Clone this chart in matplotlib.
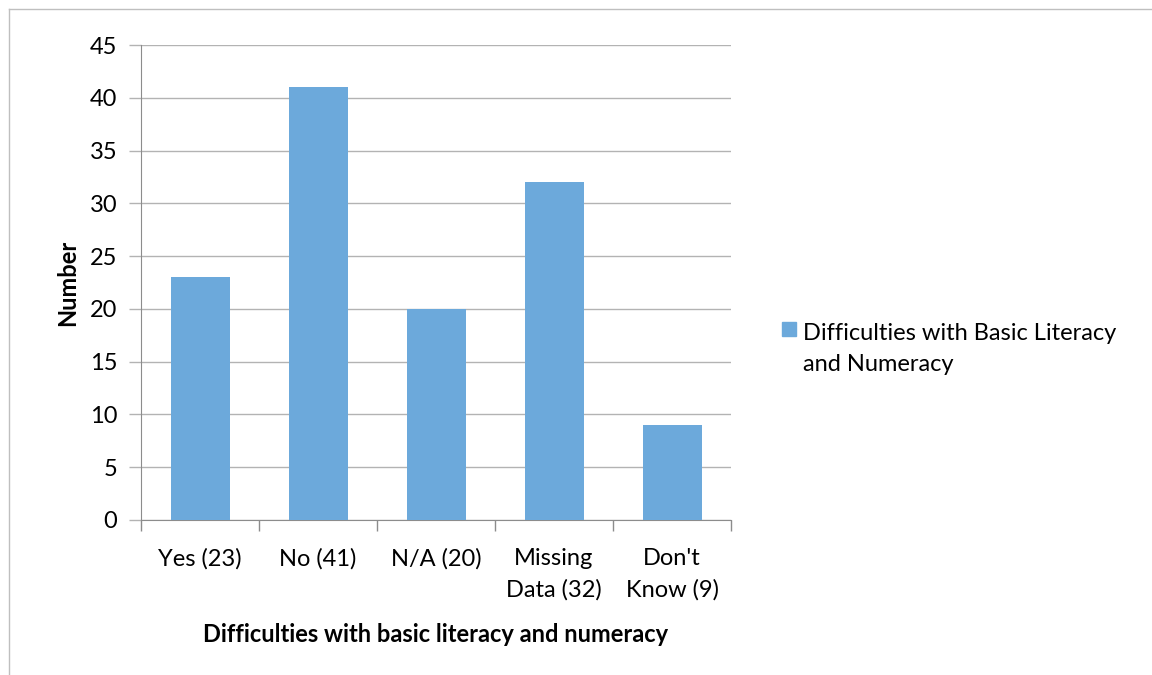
import matplotlib
matplotlib.use('Agg')
import matplotlib.pyplot as plt
from matplotlib.lines import Line2D
from matplotlib.patches import Rectangle

categories = ['Yes (23)', 'No (41)', 'N/A (20)', 'Missing\nData (32)', "Don't\nKnow (9)"]
values = [23, 41, 20, 32, 9]
y_ticks = [0, 5, 10, 15, 20, 25, 30, 35, 40, 45]
series_name = 'Difficulties with Basic Literacy\nand Numeracy'

BAR_COLOR = '#6CA9DB'
GRID_COLOR = '#B3B3B3'
AXIS_COLOR = '#8C8C8C'
FS = 17

plt.rcParams['font.family'] = ['Lato', 'DejaVu Sans']

fig = plt.figure(figsize=(11.52, 6.75), dpi=100)
ax = fig.add_axes([141 / 1152, 1 - 520 / 675, 590 / 1152, 475 / 675])

x = range(len(categories))
ax.bar(x, values, width=0.5, color=BAR_COLOR, zorder=3)

ax.set_xlim(-0.5, len(categories) - 0.5)
ax.set_ylim(0, 45)
ax.set_yticks(y_ticks)
ax.set_yticklabels([str(v) for v in y_ticks], fontsize=FS)
ax.set_xticks(list(x))
ax.set_xticklabels(categories, fontsize=FS, linespacing=1.6)
ax.set_xticks([i - 0.5 for i in range(len(categories) + 1)], minor=True)

ax.tick_params(axis='x', which='major', length=0, pad=20)
ax.tick_params(axis='x', which='minor', length=8, width=1, color=AXIS_COLOR, direction='out')
ax.tick_params(axis='y', length=9, width=1, color=GRID_COLOR, direction='out', pad=8)

ax.yaxis.grid(True, color=GRID_COLOR, linewidth=1, zorder=0)
for side in ['top', 'right']:
    ax.spines[side].set_visible(False)
ax.spines['left'].set_color(AXIS_COLOR)
ax.spines['bottom'].set_color(AXIS_COLOR)

ax.set_xlabel('Difficulties with basic literacy and numeracy', fontsize=FS,
              fontweight='bold', labelpad=16)
ax.set_ylabel('Number', fontsize=FS, fontweight='bold', labelpad=8)

# legend drawn by hand to match the Excel layout
fig.patches.append(Rectangle((782 / 1152, 1 - 336 / 675), 14 / 1152, 14 / 675,
                             transform=fig.transFigure, color=BAR_COLOR))
fig.text(803 / 1152, 1 - 349 / 675, series_name, fontsize=FS, va='center',
         ha='left', linespacing=1.6)

# chart border (top and left edges visible)
fig.add_artist(Line2D([9 / 1152, 9 / 1152], [0, 1 - 9 / 675], transform=fig.transFigure,
                      color='#BFBFBF', linewidth=1))
fig.add_artist(Line2D([9 / 1152, 1], [1 - 9 / 675, 1 - 9 / 675], transform=fig.transFigure,
                      color='#BFBFBF', linewidth=1))

fig.savefig('out.png', dpi=100)
